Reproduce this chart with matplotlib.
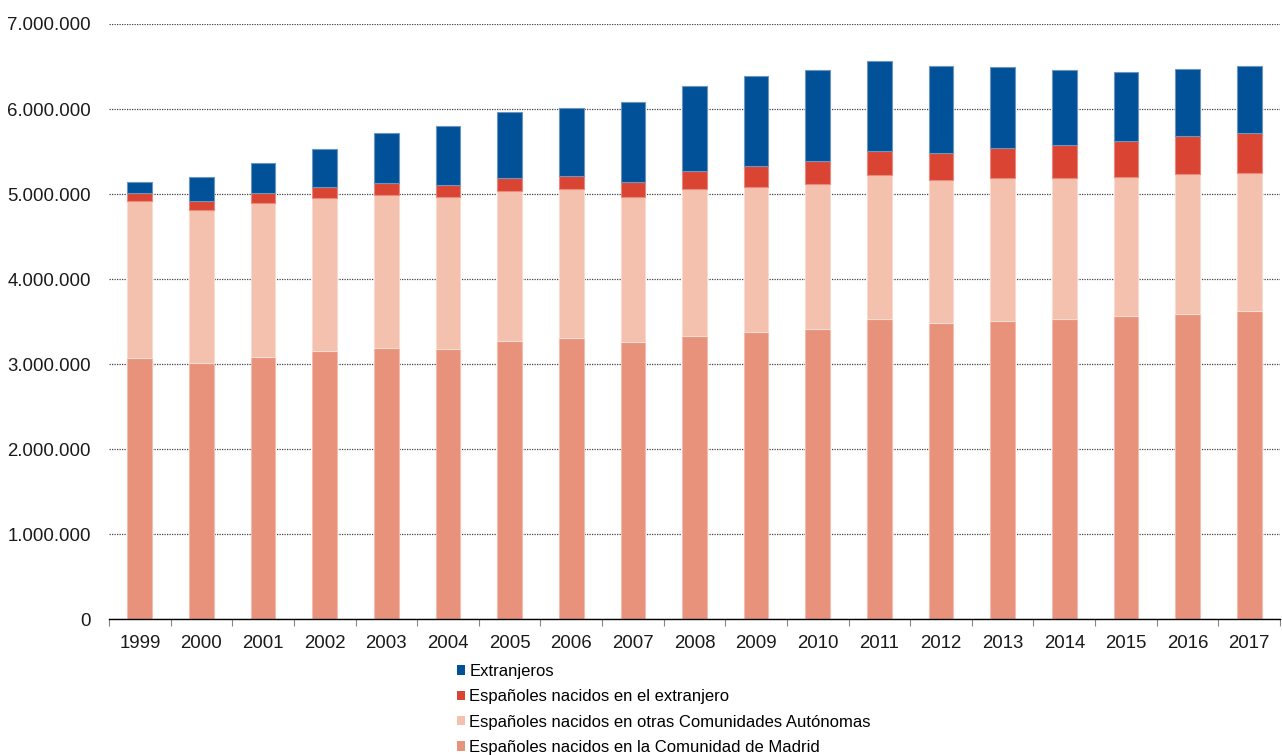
import matplotlib
matplotlib.use("Agg")
import matplotlib.pyplot as plt
from matplotlib.patches import Patch
from matplotlib.ticker import FuncFormatter, FixedLocator
import numpy as np

plt.rcParams['font.family'] = ['Liberation Sans', 'DejaVu Sans']

years = [str(y) for y in range(1999, 2018)]

# values in persons
madrid = [3076000, 3017000, 3084000, 3151000, 3190000, 3182000, 3269000, 3311000,
          3264000, 3335000, 3378000, 3414000, 3531000, 3488000, 3511000, 3531000,
          3563000, 3594000, 3622000]
otras_top = [4915000, 4817000, 4892000, 4958000, 4993000, 4962000, 5040000, 5064000,
             4970000, 5060000, 5087000, 5119000, 5225000, 5162000, 5186000, 5189000,
             5205000, 5236000, 5252000]
extr_esp_top = [5009000, 4922000, 5009000, 5080000, 5127000, 5103000, 5189000, 5213000,
                5146000, 5268000, 5327000, 5386000, 5503000, 5480000, 5539000, 5574000,
                5624000, 5680000, 5715000]
total = [5146000, 5205000, 5369000, 5527000, 5715000, 5804000, 5962000, 6009000,
         6079000, 6271000, 6389000, 6459000, 6569000, 6503000, 6495000, 6456000,
         6439000, 6468000, 6506000]

otras = [b - a for a, b in zip(madrid, otras_top)]
esp_extr = [b - a for a, b in zip(otras_top, extr_esp_top)]
extranjeros = [b - a for a, b in zip(extr_esp_top, total)]

labels = ["Extranjeros",
          "Españoles nacidos en el extranjero",
          "Españoles nacidos en otras Comunidades Autónomas",
          "Españoles nacidos en la Comunidad de Madrid"]
colors = ["#005197", "#DA4432", "#F3C1AD", "#E8917B"]
edge_colors = ["#6d95c0", "#e88a7e", "#f8dcd1", "#f2bcae"]

fig = plt.figure(figsize=(12.82, 7.55), dpi=100)
ax = fig.add_axes([109/1282, 1 - 619.3/755, (1280-109)/1282, (619.3-24)/755])

x = np.arange(len(years))
w = 0.40
bottom = np.zeros(len(years))
series = [madrid, otras, esp_extr, extranjeros]
series_colors = [colors[3], colors[2], colors[1], colors[0]]
series_edges = [edge_colors[3], edge_colors[2], edge_colors[1], edge_colors[0]]
for vals, c, ec in zip(series, series_colors, series_edges):
    ax.bar(x, vals, w, bottom=bottom, color=c, edgecolor=ec, linewidth=0.8, zorder=3)
    bottom += np.array(vals)

ax.set_xlim(-0.5, len(years) - 0.5)
ax.set_ylim(0, 7000000)
ax.set_yticks(np.arange(0, 7000001, 1000000))
ax.yaxis.set_major_formatter(FuncFormatter(lambda v, p: f"{int(v):,}".replace(",", ".")))
ax.tick_params(axis='y', length=0, pad=13, labelsize=13.4, labelcolor='#1a1a1a')

ax.set_xticks(x)
ax.set_xticklabels(years)
ax.tick_params(axis='x', which='major', length=0, pad=11, labelsize=13.4, labelcolor='#1a1a1a')
ax.xaxis.set_minor_locator(FixedLocator(np.arange(-0.5, len(years), 1.0)))
ax.tick_params(axis='x', which='minor', length=5, width=0.8, color='#888888')

ax.grid(axis='y', color='#444444', linestyle=(0, (1, 1)), linewidth=0.9, zorder=0)
for s in ['left', 'right', 'top']:
    ax.spines[s].set_visible(False)
ax.spines['bottom'].set_color('black')
ax.spines['bottom'].set_linewidth(1.0)
ax.spines['bottom'].set_zorder(4)

handles = [Patch(facecolor=c, edgecolor='none') for c in colors]
fig.legend(handles, labels, loc='upper left',
           bbox_to_anchor=(457/1282, 1 - 664/755),
           frameon=False, fontsize=12, borderpad=0, borderaxespad=0,
           handlelength=0.48, handleheight=0.48, handletextpad=0.25,
           labelspacing=0.62)

fig.savefig("out.png", dpi=100)
